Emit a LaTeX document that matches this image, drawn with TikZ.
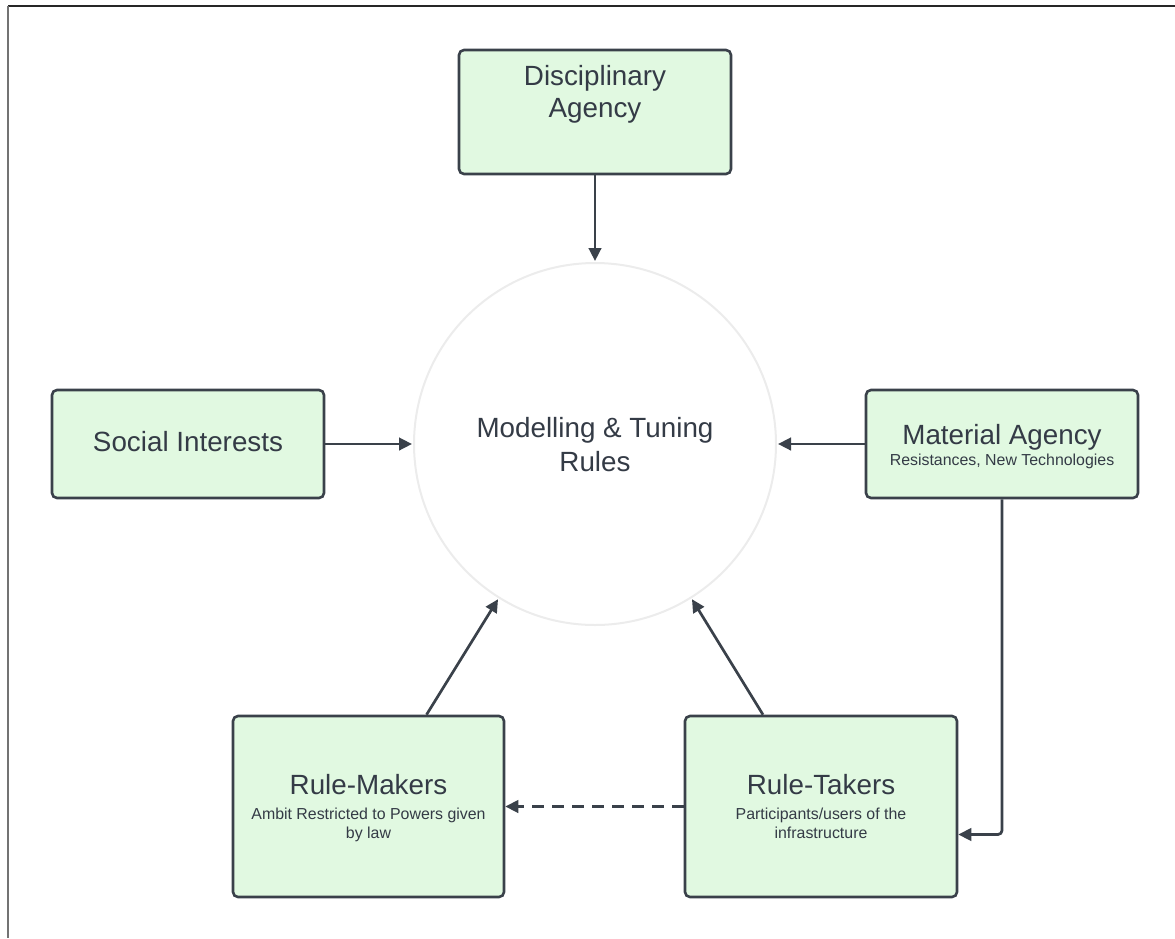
\documentclass[tikz,border=0pt]{standalone}
\usepackage{fontspec}
\setmainfont{Liberation Sans}
\usetikzlibrary{arrows.meta,calc}
\definecolor{boxfill}{HTML}{E1F9E1}
\definecolor{ink}{HTML}{3A414A}
\definecolor{txt}{HTML}{343B46}
\definecolor{ringcol}{HTML}{ECECEC}
\begin{document}
\begin{tikzpicture}[x=1pt,y=-1pt,
  box/.style={draw=ink,fill=boxfill,line width=2.6pt,rounded corners=5pt,
    inner sep=0pt,minimum width=272pt},
  big/.style={anchor=base,inner sep=0pt,text=txt,font=\fontsize{27.8}{34}\selectfont},
  small/.style={anchor=base,inner sep=0pt,text=txt,font=\fontsize{15.9}{19}\selectfont},
  link/.style={draw=ink,line width=2.7pt,-{Triangle[length=13pt,width=12.5pt]}},
]
\useasboundingbox (0,0) rectangle (1175,938);
% page frame
\draw[line width=2pt,black!85] (8,6) -- (1175,6);
\draw[line width=2pt,black!55] (8,6) -- (8,938);

% central ring
\node[circle,draw=ringcol,line width=2pt,fill=white,minimum size=362pt,inner sep=0pt,outer sep=2pt] (c) at (595,444) {};
\node[big] (c1) at (595,437) {Modelling \& Tuning};
\node[big] (c2) at (595,471) {Rules};

% boxes
\node[box,minimum height=124pt] (da) at (595,112) {};
\node[big] (da1) at (595,85) {Disciplinary};
\node[big] (da2) at (595,117) {Agency};

\node[box,minimum height=108pt] (si) at (188,444) {};
\node[big] (si1) at (188,451) {Social Interests};

\node[box,minimum height=108pt] (ma) at (1002,444) {};
\node[big] (ma1) at (1002,444) {Material Agency};
\node[small] (ma2) at (1002,465) {Resistances, New Technologies};

\node[box,minimum height=181pt,minimum width=271pt] (rm) at (368.5,806.5) {};
\node[big] (rm1) at (368.5,794) {Rule-Makers};
\node[small] (rm2) at (368.5,819) {Ambit Restricted to Powers given};
\node[small] (rm3) at (368.5,838) {by law};

\node[box,minimum height=181pt] (rt) at (821,806.5) {};
\node[big] (rt1) at (821,794) {Rule-Takers};
\node[small] (rt2) at (821,819) {Participants/users of the};
\node[small] (rt3) at (821,838) {infrastructure};

% connectors
\draw[link] (da.south) -- (c.north);
\draw[link] (si.east) -- (c.west);
\draw[link] (ma.west) -- (c.east);
\draw[link] ($(rm.north)+(58,0)$) -- (c.238);
\draw[link] ($(rt.north)+(-58,0)$) -- (c.302);
\draw[link,rounded corners=4pt] (ma.south) |- ($(rt.east)+(0,28)$);
\draw[link,dash pattern=on 12pt off 8pt] (rt.west) -- (rm.east);
\end{tikzpicture}
\end{document}
